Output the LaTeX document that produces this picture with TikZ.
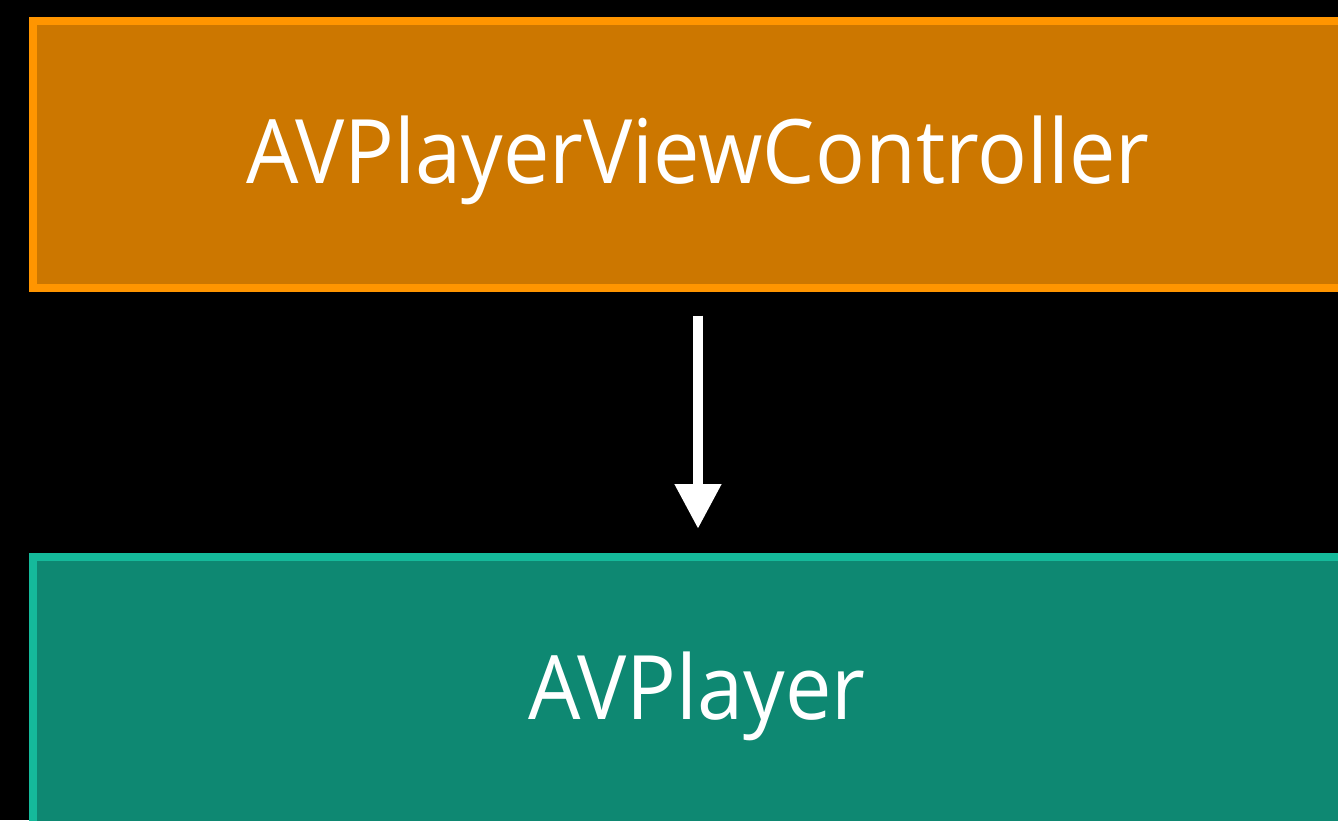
\documentclass[tikz,border=0pt]{standalone}
\usepackage{fontspec}
\setmainfont{Open Sans}[FakeStretch=0.93]
\usetikzlibrary{arrows.meta}
\definecolor{orangeedge}{HTML}{FF9500}
\definecolor{orangefill}{HTML}{CC7700}
\definecolor{tealedge}{HTML}{15BA9B}
\definecolor{tealfill}{HTML}{0E8872}
\tikzset{
  layerbox/.style={line width=8pt},
  layerlabel/.style={text=white, font=\fontsize{89}{100}\selectfont, inner sep=0pt, anchor=base},
  flow/.style={draw=white, line width=10.7pt, -{Triangle[length=45pt,width=44pt]}}
}
\begin{document}
\begin{tikzpicture}[x=1pt,y=-1pt]
  \fill[black] (0,0) rectangle (1338,820);
  \useasboundingbox (0,0) rectangle (1338,820);
  % upper layer
  \path[layerbox, draw=orangeedge, fill=orangefill] (33,21) rectangle (1360,287.5);
  \node[layerlabel] (vc) at (698,183) {AVPlayerViewController};
  % lower layer
  \path[layerbox, draw=tealedge, fill=tealfill] (33,557) rectangle (1360,850);
  \node[layerlabel] (pl) at (697,719) {AVPlayer};
  % ownership arrow
  \coordinate (from) at (698,315.5);
  \coordinate (to) at (698,529);
  \draw[flow] (from) -- (to);
\end{tikzpicture}
\end{document}
